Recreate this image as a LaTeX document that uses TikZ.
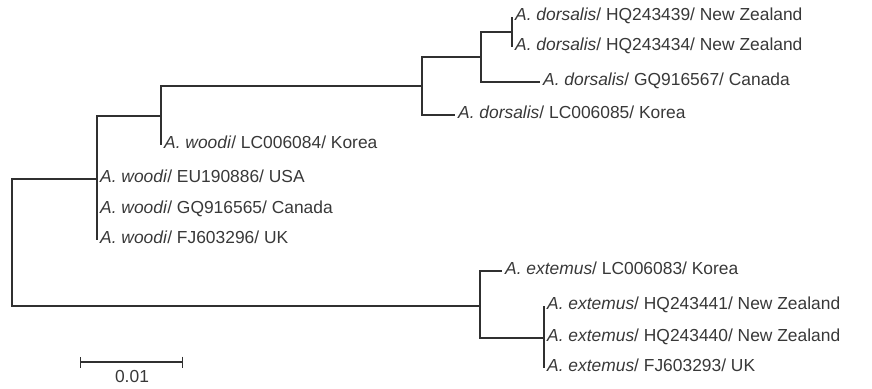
\documentclass[tikz,border=0pt]{standalone}
\usepackage{fontspec}
\setmainfont{Liberation Sans}
\usepackage{tikz}
\usetikzlibrary{arrows.meta}
\definecolor{linegray}{HTML}{303030}
\definecolor{labelgray}{HTML}{383838}
\newcommand{\taxon}[3]{\textit{A. #1}/ #2/ #3}

\begin{document}
\begin{tikzpicture}[x=1pt,y=-1pt,
        branch/.style={draw=linegray,line width=1.3pt},
        leaf/.style={anchor=west,inner xsep=3pt,inner ysep=0pt,
                     text height=1.6ex,text depth=.3ex,text=labelgray,
                     font=\fontsize{17.4}{20}\selectfont},
        sbar/.style={branch,{Bar[width=11pt,line width=1.3pt]}-{Bar[width=11pt,line width=1.3pt]}}]
  \useasboundingbox (0,0) rectangle (872,388);
  % internal nodes
  \coordinate (root) at (12,242);
  \coordinate (woodi) at (97,179);
  \coordinate (woodiB) at (161,116);
  \coordinate (dors) at (422,86);
  \coordinate (dorsA) at (481,57);
  \coordinate (dorsB) at (512,32);
  \coordinate (ext) at (480,306);
  \coordinate (extA) at (544,338);
  % leaves
  \node[leaf] (dHQ39) at (512,17) {\taxon{dorsalis}{HQ243439}{New Zealand}};
  \node[leaf] (dHQ34) at (512,47) {\taxon{dorsalis}{HQ243434}{New Zealand}};
  \node[leaf] (dGQ) at (540,82) {\taxon{dorsalis}{GQ916567}{Canada}};
  \node[leaf] (dLC) at (455,115) {\taxon{dorsalis}{LC006085}{Korea}};
  \node[leaf] (wLC) at (161,145) {\taxon{woodi}{LC006084}{Korea}};
  \node[leaf] (wEU) at (97,179) {\taxon{woodi}{EU190886}{USA}};
  \node[leaf] (wGQ) at (97,210) {\taxon{woodi}{GQ916565}{Canada}};
  \node[leaf] (wFJ) at (97,240) {\taxon{woodi}{FJ603296}{UK}};
  \node[leaf] (eLC) at (502,271) {\taxon{extemus}{LC006083}{Korea}};
  \node[leaf] (eHQ41) at (544,306) {\taxon{extemus}{HQ243441}{New Zealand}};
  \node[leaf] (eHQ40) at (544,338) {\taxon{extemus}{HQ243440}{New Zealand}};
  \node[leaf] (eFJ) at (544,368) {\taxon{extemus}{FJ603293}{UK}};
  % branches
  \draw[branch] (root) |- (woodi);
  \draw[branch] (root) |- (ext);
  \draw[branch] (woodi) |- (woodiB);
  \draw[branch] (woodi) |- (wFJ.west);
  \draw[branch] (woodiB) |- (dors);
  \draw[branch] (woodiB) |- (wLC.west);
  \draw[branch] (dors) |- (dorsA);
  \draw[branch] (dors) |- (dLC.west);
  \draw[branch] (dorsA) |- (dorsB);
  \draw[branch] (dorsA) |- (dGQ.west);
  \draw[branch] (dHQ39.west) -- (dHQ34.west);
  \draw[branch] (ext) |- (eLC.west);
  \draw[branch] (ext) |- (extA);
  \draw[branch] (eHQ41.west) -- (eFJ.west);
  % scale bar
  \coordinate (sbL) at (80,362);
  \coordinate (sbR) at (183,362);
  \draw[sbar] (sbL) -- (sbR);
  \node[leaf,anchor=center] (sbT) at (132,379) {0.01};
\end{tikzpicture}
\end{document}
